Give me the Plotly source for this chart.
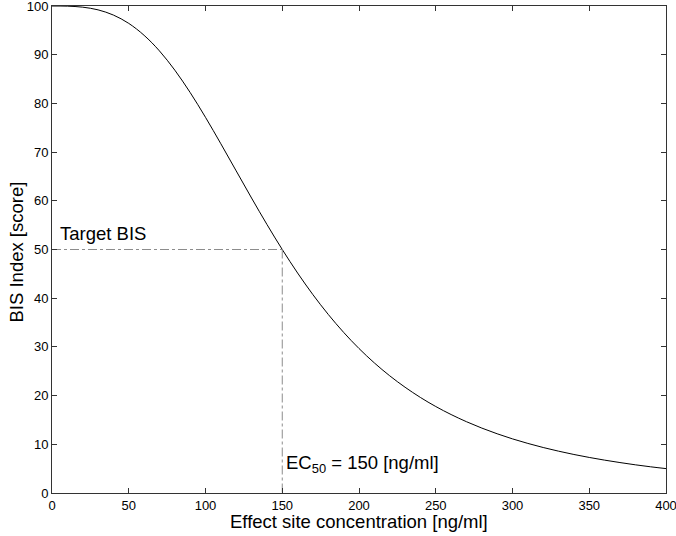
import plotly.graph_objects as go

conc = [0, 10, 20, 30, 40, 50, 60, 70, 80, 90, 100, 110, 120, 130, 140, 150,
        160, 170, 180, 190, 200, 210, 220, 230, 240, 250, 260, 270, 280, 290,
        300, 310, 320, 330, 340, 350, 360, 370, 380, 390, 400]
bis = [100, 99.97, 99.76, 99.21, 98.14, 96.43, 93.98, 90.78, 86.83, 82.24, 77.14,
       71.71, 66.14, 60.57, 55.16, 50.0, 45.17, 40.72, 36.66, 32.98, 29.67, 26.71,
       24.07, 21.72, 19.62, 17.76, 16.11, 14.64, 13.33, 12.16, 11.11, 10.18, 9.34,
       8.59, 7.91, 7.30, 6.75, 6.25, 5.79, 5.38, 5.01]

ec50 = 150
target_bis = 50
x_ticks = [0, 50, 100, 150, 200, 250, 300, 350, 400]
y_ticks = [0, 10, 20, 30, 40, 50, 60, 70, 80, 90, 100]

font = "Liberation Sans, Arial, Helvetica, sans-serif"
big = 18.5

fig = go.Figure()
fig.add_trace(go.Scatter(x=conc, y=bis, mode="lines",
                         line=dict(color="black", width=1, shape="spline"),
                         showlegend=False, hoverinfo="skip"))
fig.add_trace(go.Scatter(x=[0, ec50], y=[target_bis, target_bis], mode="lines",
                         line=dict(color="#8c8c8c", width=1, dash="dashdot"),
                         showlegend=False, hoverinfo="skip"))
fig.add_trace(go.Scatter(x=[ec50, ec50], y=[target_bis, 0], mode="lines",
                         line=dict(color="#8c8c8c", width=1, dash="dashdot"),
                         showlegend=False, hoverinfo="skip"))

fig.add_annotation(x=0, y=target_bis, xref="x", yref="y", text="Target BIS",
                   showarrow=False, xanchor="left", yanchor="middle", xshift=6, yshift=16,
                   font=dict(family=font, size=big, color="black"))
fig.add_annotation(x=ec50, y=0, xref="x", yref="y", text="EC<sub>50</sub> = 150 [ng/ml]",
                   showarrow=False, xanchor="left", yanchor="middle", xshift=2, yshift=29,
                   font=dict(family=font, size=big, color="black"))

# axis titles
fig.add_annotation(x=0.5, y=0, xref="paper", yref="paper",
                   text="Effect site concentration [ng/ml]", showarrow=False,
                   xanchor="center", yanchor="middle", yshift=-28,
                   font=dict(family=font, size=big, color="black"))
fig.add_annotation(x=0, y=0.5, xref="paper", yref="paper",
                   text="BIS Index [score]", showarrow=False, textangle=-90,
                   xanchor="center", yanchor="middle", xshift=-36, yshift=-3,
                   font=dict(family=font, size=big, color="black"))

axis_common = dict(showgrid=False, zeroline=False, showline=True, linecolor="#333",
                   linewidth=1, mirror="ticks", ticks="inside", ticklen=5,
                   tickcolor="#333", automargin=False, ticklabeloverflow="allow",
                   tickfont=dict(family=font, size=13, color="black"))

fig.update_xaxes(range=[0, 400], tickvals=x_ticks, **axis_common)
fig.update_yaxes(range=[0, 100], tickvals=y_ticks, **axis_common)

fig.update_layout(width=676, height=536, margin=dict(l=52, r=10, t=6, b=43),
                  paper_bgcolor="white", plot_bgcolor="white")

fig.write_html("out.html", config={"displayModeBar": False},
               post_script="document.body.style.margin='0';")
